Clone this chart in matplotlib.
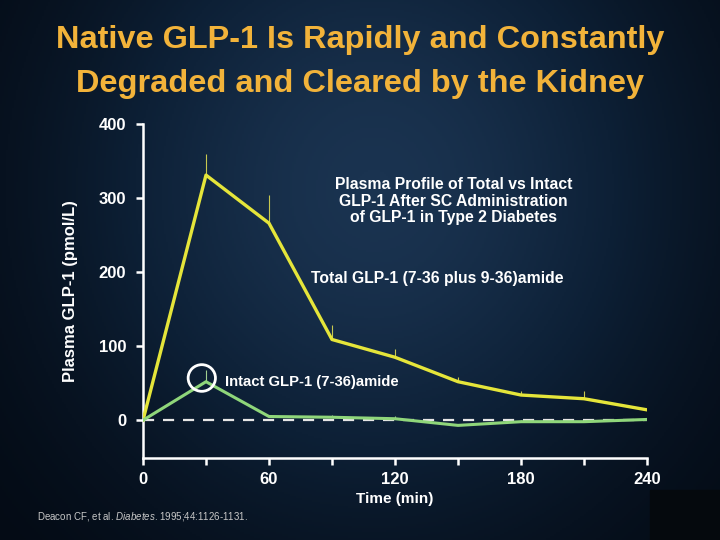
import numpy as np
import matplotlib.pyplot as plt
from matplotlib.colors import LinearSegmentedColormap
from matplotlib.patches import Ellipse, Rectangle

plt.rcParams['mathtext.fontset'] = 'custom'
plt.rcParams['mathtext.rm'] = 'Liberation Sans'
plt.rcParams['mathtext.it'] = 'Liberation Sans:italic'

# Data
time_min = [0, 30, 60, 90, 120, 150, 180, 210, 240]
total_glp1 = [0, 331, 266, 109, 85, 52, 34, 29, 14]
total_err = [0, 29, 38, 20, 11, 7, 5, 10, 4]
intact_glp1 = [0, 52, 5, 4, 2, -7, -2, -2, 1]
intact_err = [0, 16, 2, 3, 4, 2, 2, 2, 2]
yticks = [0, 100, 200, 300, 400]
xticks = [0, 60, 120, 180, 240]

title = 'Native GLP-1 Is Rapidly and Constantly\nDegraded and Cleared by the Kidney'
box_text = 'Plasma Profile of Total vs Intact\nGLP-1 After SC Administration\nof GLP-1 in Type 2 Diabetes'
font = ['Liberation Sans', 'DejaVu Sans']

fig = plt.figure(figsize=(7.2, 5.4), dpi=100)

# dark navy background
bg = fig.add_axes([0, 0, 1, 1])
yy, xx = np.mgrid[0:1:270j, 0:1:360j]
glow = np.exp(-(((xx - 0.52) / 0.42) ** 2 + ((yy - 0.35) / 0.6) ** 2))
cmap = LinearSegmentedColormap.from_list('bg', ['#040b15', '#0d2036', '#1a3350'])
bg.imshow(glow, cmap=cmap, aspect='auto', extent=[0, 1, 0, 1], origin='upper')
bg.add_patch(Rectangle((0.903, 0), 0.097, 0.093, color='#05090d'))
bg.set_xlim(0, 1)
bg.set_ylim(0, 1)
bg.axis('off')

fig.text(0.5, 0.885, title, ha='center', va='center', color='#f2b33a',
         fontsize=23.4, fontweight='bold', family=font, linespacing=1.6)

ax = fig.add_axes([0.1986, 0.1519, 0.7, 0.6185])
ax.patch.set_alpha(0)
ax.set_xlim(0, 240)
ax.set_ylim(-51, 400)

ax.axhline(0, xmin=0, xmax=1, color='#e6e6e6', lw=1.6, ls=(0, (5, 4)), zorder=1)

ax.errorbar(time_min, total_glp1, yerr=[np.zeros(len(total_err)), total_err],
            color='#e5e53a', lw=2.4, ecolor='#c8c850', elinewidth=0.8, capsize=0, zorder=3)
ax.errorbar(time_min, intact_glp1, yerr=[np.zeros(len(intact_err)), intact_err],
            color='#8fd67a', lw=2.2, ecolor='#a0d090', elinewidth=0.8, capsize=0, zorder=3)

for s in ['top', 'right']:
    ax.spines[s].set_visible(False)
for s in ['left', 'bottom']:
    ax.spines[s].set_color('white')
    ax.spines[s].set_linewidth(1.8)
ax.spines['left'].set_bounds(-51, 400)

ax.set_yticks(yticks)
ax.set_xticks(xticks)
ax.set_xticks([30, 90, 150, 210], minor=True)
ax.tick_params(axis='both', colors='white', width=1.8, length=5, labelsize=12, pad=5)
ax.tick_params(axis='x', which='minor', colors='white', width=1.8, length=5)
ax.tick_params(axis='y', pad=7)
for lab in ax.get_xticklabels() + ax.get_yticklabels():
    lab.set_fontweight('bold')
    lab.set_family(font)

ax.set_xlabel('Time (min)', color='white', fontsize=11, fontweight='bold', family=font, labelpad=4)
ax.set_ylabel('Plasma GLP-1 (pmol/L)', color='white', fontsize=12, fontweight='bold',
              family=font, labelpad=15)

ax.text(148, 296, box_text, ha='center', va='center', color='white', fontsize=11.3,
        fontweight='bold', family=font, linespacing=1.15)
ax.text(80, 192, 'Total GLP-1 (7-36 plus 9-36)amide', ha='left', va='center', color='white',
        fontsize=11.3, fontweight='bold', family=font)
ax.text(39, 51, 'Intact GLP-1 (7-36)amide', ha='left', va='center', color='white',
        fontsize=10.7, fontweight='bold', family=font)
ax.add_patch(Ellipse((28, 57), 13, 36, fill=False, ec='white', lw=2, zorder=4))

fig.text(0.051, 0.043, r'Deacon CF, et al. $\it{Diabetes}$. 1995;44:1126-1131.',
         color='#c8c8c8', fontsize=7, family=font, va='center')

fig.savefig('out.png', dpi=100, facecolor='#0a1828')
